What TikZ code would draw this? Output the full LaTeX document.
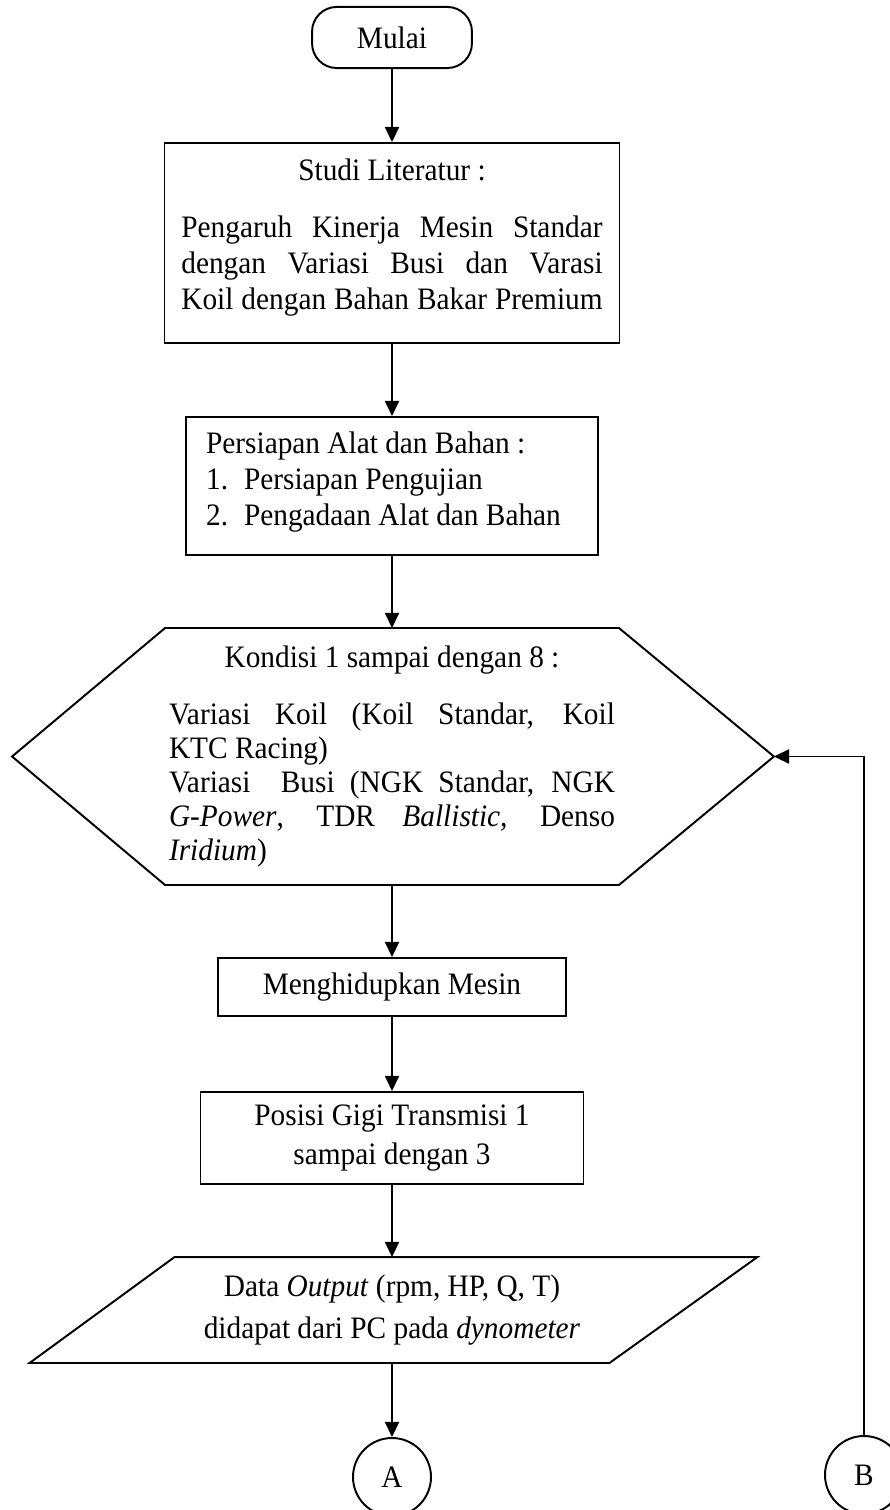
\documentclass[tikz,border=0pt]{standalone}
\usepackage{fontspec}
\setmainfont{Liberation Serif}[FakeStretch=0.94]
\usetikzlibrary{arrows.meta}
\usetikzlibrary{calc}

\begin{document}
\begin{tikzpicture}[
    x=0.3846pt, y=-0.3846pt,
    font=\fontsize{12}{13.85}\selectfont,
    line width=0.75pt,
    procbox/.style={draw, inner sep=0pt},
    hidden/.style={inner sep=0pt},
    connector/.style={circle, draw, minimum size=30pt, inner sep=0pt},
    flow/.style={-{Triangle[length=5.8pt,width=5.4pt]}}]

    \useasboundingbox (0,0) rectangle (890,1510);

    % start
    \node[procbox, rounded corners=9.5pt, minimum width=61.5pt, minimum height=23.5pt] at (392,37.5) (mulai) {Mulai};

    % literature study box
    \node[procbox, minimum width=175pt, minimum height=76.9pt] at (392,243) (studi) {\begin{minipage}{162pt}
        \hyphenpenalty=10000
        {\centering Studi Literatur :\par}\vspace{8pt}
        {\parfillskip=0pt Pengaruh Kinerja Mesin Standar\linebreak dengan Variasi Busi dan Varasi\linebreak Koil dengan Bahan Bakar Premium\par}
        \vspace{4pt}
      \end{minipage}};

    % preparation box
    \node[procbox, minimum width=158.5pt, minimum height=53.1pt] at (392,486) (siap) {\begin{minipage}{143pt}
        \baselineskip=14pt
        Persiapan Alat dan Bahan :\\
        \makebox[14.6pt][l]{1.}Persiapan Pengujian\\
        \makebox[14.6pt][l]{2.}Pengadaan Alat dan Bahan
        \vspace{3pt}
      \end{minipage}};

    % hexagon with the test conditions
    \node[hidden, minimum width=173.8pt, minimum height=98.1pt] at (392,756.5) (kondisi) {\begin{minipage}{171.5pt}
        \baselineskip=13.1pt \hyphenpenalty=10000
        {\centering Kondisi 1 sampai dengan 8 :\par}\vspace{9pt}
        Variasi Koil (Koil Standar, Koil\linebreak KTC Racing)\par
        Variasi\ \ Busi (NGK Standar, NGK\linebreak \textit{G-Power}, TDR \textit{Ballistic,} Denso\linebreak \textit{Iridium})\par
      \end{minipage}};
    \coordinate (kondisiL) at ($(kondisi.west)+(-153,0)$);
    \coordinate (kondisiR) at ($(kondisi.east)+(155,0)$);
    \draw (kondisi.north west) -- (kondisi.north east) -- (kondisiR)
        -- (kondisi.south east) -- (kondisi.south west) -- (kondisiL) -- cycle;

    % engine start
    \node[procbox, minimum width=133.8pt, minimum height=22.3pt] at (392,987) (mesin) {Menghidupkan Mesin};

    % gear position
    \node[procbox, align=center, minimum width=147.3pt, minimum height=35.4pt] at (392,1138) (gigi) {Posisi Gigi Transmisi 1\\[0.8pt] sampai dengan 3};

    % output data, drawn as a parallelogram
    \node[hidden, align=center, minimum width=166.5pt, minimum height=40pt] at (392,1310) (data) {Data \textit{Output} (rpm, HP, Q, T)\\[2.3pt] didapat dari PC pada \textit{dynometer}};
    \draw (data.north west) -- ($(data.north east)+(148,0)$) -- (data.south east)
        -- ($(data.south west)+(-145,0)$) -- cycle;

    % off-page connectors
    \node[connector] at (392,1477) (A) {A};
    \node[connector] at (864,1475) (B) {B};

    % main flow
    \draw[flow] (mulai) -- (studi);
    \draw[flow] (studi) -- (siap);
    \draw[flow] (siap) -- (kondisi);
    \draw[flow] (kondisi) -- (mesin);
    \draw[flow] (mesin) -- (gigi);
    \draw[flow] (gigi) -- (data);
    \draw[flow] (data) -- (A);

    % loop back from B
    \draw[flow] (B.north) |- (kondisiR);

\end{tikzpicture}
\end{document}
